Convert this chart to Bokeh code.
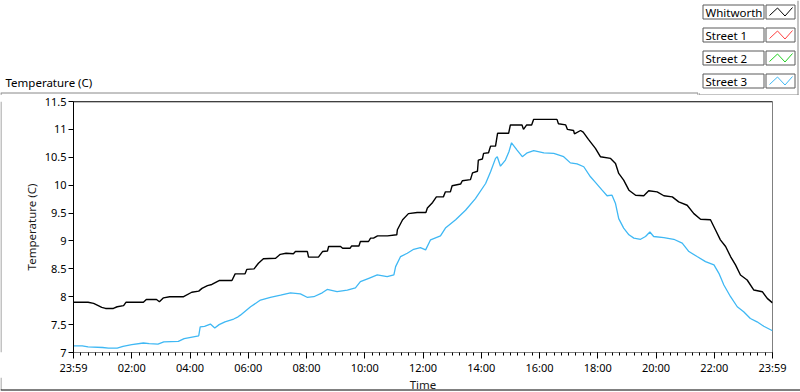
from bokeh.plotting import figure
from bokeh.models import Range1d, FixedTicker, Span
from bokeh.layouts import column, row
from bokeh.core.properties import value
from bokeh.embed import file_html
from bokeh.resources import INLINE

# ---------------- data ----------------
series_names = ["Whitworth", "Street 1", "Street 2", "Street 3"]
series_colors = ["#000000", "#ff4040", "#22d022", "#3fb8f4"]

whitworth_hours = [0, 0.5, 0.69, 0.85, 0.97, 1.1, 1.37, 1.5, 1.72, 1.8, 2.4, 2.5, 2.85, 2.95, 3.09, 3.3,
                   3.78, 4.06, 4.3, 4.41, 4.6, 4.75, 5.0, 5.44, 5.55, 5.89, 5.95, 6.2, 6.35, 6.52, 6.94,
                   7.1, 7.3, 7.55, 7.62, 8.03, 8.07, 8.41, 8.55, 8.72, 8.76, 9.17, 9.24, 9.5, 9.55, 9.8,
                   9.85, 10.13, 10.2, 10.3, 10.44, 10.78, 11.1, 11.12, 11.3, 11.5, 11.8, 12.1, 12.15,
                   12.33, 12.46, 12.7, 12.77, 12.94, 13.0, 13.29, 13.35, 13.63, 13.7, 13.87, 13.9, 14.04,
                   14.08, 14.25, 14.32, 14.49, 14.56, 14.94, 15.0, 15.4, 15.45, 15.56, 15.73, 15.8, 16.6,
                   16.65, 16.9, 16.96, 17.17, 17.2, 17.41, 17.5, 17.68, 17.92, 18.09, 18.44, 18.61, 18.72,
                   18.89, 19.07, 19.3, 19.58, 19.75, 20.04, 20.27, 20.56, 20.78, 21.07, 21.3, 21.53,
                   21.87, 22.04, 22.21, 22.39, 22.56, 22.73, 22.9, 23.13, 23.36, 23.65, 23.82, 24.0]
whitworth_temp = [7.90, 7.90, 7.88, 7.84, 7.81, 7.79, 7.79, 7.82, 7.84, 7.90, 7.90, 7.95, 7.95, 7.91, 7.98, 8.00,
                  8.00, 8.08, 8.10, 8.15, 8.20, 8.22, 8.29, 8.29, 8.41, 8.41, 8.49, 8.50, 8.60, 8.68, 8.69,
                  8.76, 8.78, 8.77, 8.81, 8.81, 8.71, 8.71, 8.81, 8.82, 8.90, 8.90, 8.87, 8.87, 8.91, 8.91,
                  8.99, 8.99, 9.05, 9.05, 9.09, 9.09, 9.11, 9.20, 9.38, 9.49, 9.51, 9.51, 9.59,
                  9.69, 9.79, 9.79, 9.88, 9.88, 9.99, 10.02, 10.08, 10.10, 10.22, 10.25, 10.45, 10.47,
                  10.57, 10.58, 10.70, 10.70, 10.93, 10.93, 11.08, 11.08, 11.00, 11.08, 11.08, 11.18, 11.18,
                  11.10, 11.08, 11.00, 10.98, 10.92, 10.98, 10.95, 10.82, 10.66, 10.51, 10.48, 10.39, 10.21,
                  10.09, 9.91, 9.82, 9.81, 9.90, 9.88, 9.81, 9.79, 9.70, 9.64, 9.49, 9.39,
                  9.38, 9.20, 9.02, 8.90, 8.72, 8.57, 8.39, 8.30, 8.12, 8.09, 7.97, 7.89]

street3_hours = [0, 0.3, 0.5, 1.0, 1.2, 1.5, 1.7, 2.0, 2.4, 2.6, 2.9, 3.1, 3.6, 3.8, 4.3, 4.35, 4.5, 4.7,
                 4.85, 5.0, 5.2, 5.5, 5.65, 5.73, 6.08, 6.42, 6.76, 7.11, 7.45, 7.79, 8.02, 8.25, 8.54,
                 8.71, 9.05, 9.40, 9.68, 9.85, 10.14, 10.43, 10.77, 11.0, 11.06, 11.23, 11.46, 11.68,
                 11.91, 12.09, 12.26, 12.6, 12.77, 13.12, 13.46, 13.8, 14.15, 14.32, 14.49, 14.55, 14.66,
                 14.83, 14.95, 15.04, 15.23, 15.41, 15.58, 15.8, 16.15, 16.49, 16.83, 17.06, 17.29, 17.52,
                 17.75, 17.92, 18.15, 18.32, 18.49, 18.61, 18.72, 18.89, 19.07, 19.24, 19.47, 19.64, 19.79,
                 19.92, 20.27, 20.61, 20.9, 21.13, 21.41, 21.7, 21.99, 22.16, 22.33, 22.56, 22.79, 23.01,
                 23.24, 23.47, 23.7, 24.0]
street3_temp = [7.12, 7.12, 7.10, 7.09, 7.08, 7.08, 7.11, 7.14, 7.17, 7.16, 7.15, 7.19, 7.20, 7.25, 7.30, 7.46, 7.47, 7.51,
                7.44, 7.50, 7.55, 7.60, 7.64, 7.67, 7.82, 7.94, 7.99, 8.03, 8.07, 8.05, 7.99, 8.00, 8.07,
                8.13, 8.09, 8.12, 8.16, 8.27, 8.33, 8.39, 8.36, 8.39, 8.54, 8.72, 8.78, 8.85,
                8.88, 8.84, 9.02, 9.09, 9.23, 9.38, 9.55, 9.76, 10.03, 10.24, 10.48, 10.51, 10.34,
                10.45, 10.60, 10.76, 10.63, 10.51, 10.58, 10.62, 10.58, 10.57, 10.51, 10.40, 10.38, 10.33,
                10.15, 10.05, 9.91, 9.81, 9.82, 9.67, 9.40, 9.23, 9.11, 9.05, 9.03, 9.08, 9.16,
                9.08, 9.06, 9.03, 8.96, 8.81, 8.72, 8.63, 8.57, 8.42, 8.21, 8.00, 7.82, 7.73,
                7.61, 7.55, 7.47, 7.39]

x_tick_hours = [0, 2, 4, 6, 8, 10, 12, 14, 16, 18, 20, 22, 24]
x_tick_labels = ["23:59", "02:00", "04:00", "06:00", "08:00", "10:00", "12:00",
                 "14:00", "16:00", "18:00", "20:00", "22:00", "23:59"]
y_ticks = [7, 7.5, 8, 8.5, 9, 9.5, 10, 10.5, 11, 11.5]
y_tick_labels = ["7", "7.5", "8", "8.5", "9", "9.5", "10", "10.5", "11", "11.5"]

chart_title = "Temperature (C)"
x_title = "Time"
y_title = "Temperature (C)"

# ---------------- styling ----------------
FONT = "Noto Sans"
PANEL = "#888888"
BOXLINE = "#5a5a5a"


def blank(w, h):
    """A plain drawing strip whose frame covers its whole canvas, y counted downward."""
    f = figure(width=w, height=h, output_backend="svg", toolbar_location=None,
               x_range=Range1d(0, w), y_range=Range1d(h, 0),
               x_axis_type=None, y_axis_type=None, min_border=0)
    f.outline_line_color = None
    f.background_fill_color = "white"
    f.border_fill_color = "white"
    return f


# ---- top-left strip: chart title and panel top edge ----
tl = blank(698, 95)
tl.text(x=[5], y=[81.5], text=[chart_title], text_font=value(FONT), text_font_size="11.5px",
        text_color="#000000", text_baseline="middle", text_align="left")
tl.segment(x0=[0, 0.5, 697.5], y0=[92.5, 92.5, 92.5], x1=[698, 0.5, 697.5], y1=[92.5, 95, 95],
           line_color=PANEL, line_width=1)

# ---- top-right strip: legend ----
tr = blank(102, 95)
tr.segment(x0=[0, 0.5, 99.5], y0=[94.5, 92.5, 0], x1=[100, 0.5, 99.5], y1=[94.5, 95, 95],
           line_color=PANEL, line_width=1)
box_tops = [4.5, 27.5, 50.5, 73.5]
box_h = 14
tr.quad(left=[4.5] * 4, right=[65.5] * 4, top=box_tops, bottom=[t + box_h for t in box_tops],
        fill_color="white", line_color=BOXLINE, line_width=1)
tr.quad(left=[67.5] * 4, right=[96.5] * 4, top=box_tops, bottom=[t + box_h for t in box_tops],
        fill_color="white", line_color=BOXLINE, line_width=1)
tr.text(x=[7] * 4, y=[t + 7.5 for t in box_tops], text=series_names, text_font=value(FONT),
        text_font_size="11.5px", text_color="#000000", text_baseline="middle", text_align="left")
zig_x = [71, 79, 86.5, 94]
zig_dy = [10.5, 3, 11, 2.5]
tr.multi_line(xs=[zig_x] * 4, ys=[[t + d for d in zig_dy] for t in box_tops],
              line_color=series_colors, line_width=1)

# ---- left strip: panel left edge ----
MAIN_H = 282
ls = blank(3, MAIN_H)
ls.segment(x0=[0.5], y0=[0], x1=[0.5], y1=[MAIN_H], line_color=PANEL, line_width=1)

# ---- main chart ----
p = figure(width=797, height=MAIN_H, output_backend="svg", toolbar_location=None,
           x_range=Range1d(0, 24), y_range=Range1d(7, 11.5),
           min_border_left=70, min_border_right=28, min_border_top=6, min_border_bottom=25)
p.background_fill_color = "white"
p.border_fill_color = "white"
p.outline_line_color = "#808080"
p.xgrid.visible = False
p.ygrid.visible = False

minor = [i * 0.25 for i in range(97)]
p.xaxis.ticker = FixedTicker(ticks=x_tick_hours, minor_ticks=minor)
p.xaxis.major_label_overrides = {h: lab for h, lab in zip(x_tick_hours, x_tick_labels)}
p.yaxis.ticker = FixedTicker(ticks=y_ticks, minor_ticks=[])
p.yaxis.major_label_overrides = {v: lab for v, lab in zip(y_ticks, y_tick_labels)}

for ax in (p.xaxis[0], p.yaxis[0]):
    ax.major_label_text_font = FONT
    ax.major_label_text_font_size = "11px"
    ax.major_label_text_color = "#000000"
    ax.axis_label_text_font = FONT
    ax.axis_label_text_font_size = "11.5px"
    ax.axis_label_text_font_style = "normal"
    ax.axis_label_text_color = "#1a1a1a"
    ax.major_tick_in = 0
    ax.minor_tick_in = 0
    ax.major_tick_line_color = "#000000"

p.xaxis.major_label_standoff = 1
p.xaxis.axis_line_color = "#808080"
p.xaxis.major_tick_out = 6
p.xaxis.minor_tick_out = 3
p.xaxis.minor_tick_line_color = "#000000"

p.yaxis.axis_label = y_title
p.yaxis.major_label_standoff = 2
p.yaxis.axis_label_standoff = 3
p.yaxis.axis_line_color = "#000000"
p.yaxis.major_tick_out = 5
p.yaxis.minor_tick_line_color = None

p.add_layout(Span(location=11.5, dimension="width", line_color="#000000", line_width=1.5))

p.line(street3_hours, street3_temp, line_color=series_colors[3], line_width=1.3)
p.line(whitworth_hours, whitworth_temp, line_color=series_colors[0], line_width=1.4)

# ---- bottom strip: x-axis title and panel bottom edge ----
bs = blank(800, 15)
bs.text(x=[422.5], y=[6.5], text=[x_title], text_font=value(FONT), text_font_size="11.5px",
        text_color="#1a1a1a", text_baseline="middle", text_align="center")
bs.segment(x0=[0.5, 0], y0=[0, 12.5], x1=[0.5, 800], y1=[12.5, 12.5],
           line_color=[PANEL, "#000000"], line_width=1)

layout = column(row(tl, tr), row(ls, p), bs)
open("out.html", "w").write(file_html(layout, INLINE))
